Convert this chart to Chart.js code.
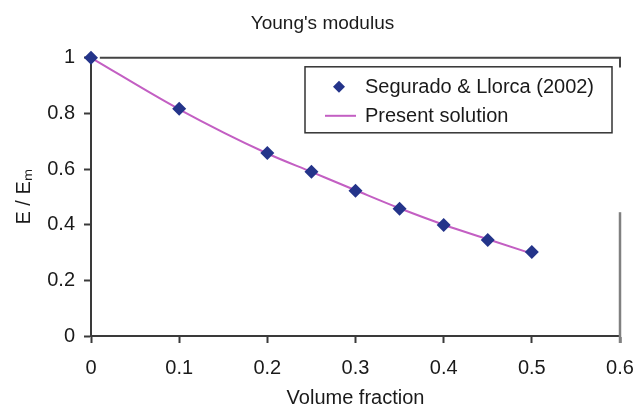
<!DOCTYPE html>
<html>
<head>
<meta charset="utf-8">
<script src="https://cdn.jsdelivr.net/npm/chart.js@4/dist/chart.umd.min.js"></script>
<style>
  html, body { margin: 0; padding: 0; background: #fff; }
  #wrap { width: 639px; height: 408px; }
</style>
</head>
<body>
<div id="wrap"><canvas id="myChart" width="639" height="408"></canvas></div>
<script>
// volume fraction
const fractions = [0, 0.1, 0.2, 0.25, 0.3, 0.35, 0.4, 0.45, 0.5];
// Segurado & Llorca (2002), E / Em
const seguradoValues = [1, 0.817, 0.658, 0.59, 0.522, 0.457, 0.399, 0.345, 0.302];
// present solution, E / Em
const presentValues = [1, 0.815, 0.656, 0.59, 0.524, 0.459, 0.40, 0.348, 0.296];
const xTicks = [0, 0.1, 0.2, 0.3, 0.4, 0.5, 0.6];
const yTicks = [0, 0.2, 0.4, 0.6, 0.8, 1];

const FONT = "'Liberation Sans', Arial, sans-serif";
const TEXT = '#1a1a1a';
const AXIS = '#3a3a3a';

function toPoints(values) {
    return fractions.map((f, i) => ({ x: f, y: values[i] }));
}

// centre the title over the plot area rather than the whole canvas
const titleShift = {
    id: 'titleShift',
    afterLayout(chart) {
        const t = chart.titleBlock;
        if (!t) return;
        const mid = (chart.chartArea.left + chart.chartArea.right) / 2 - (t.left + t.right) / 2 - 33;
        t.left += mid;
        t.right += mid;
    }
};

// top border and the broken right border of the frame
const frame = {
    id: 'frame',
    afterDraw(chart) {
        const ctx = chart.ctx;
        const x = chart.scales.x, y = chart.scales.y;
        ctx.save();
        ctx.strokeStyle = '#444';
        ctx.lineWidth = 2;
        ctx.beginPath();
        ctx.moveTo(x.getPixelForValue(0.01), y.getPixelForValue(1));
        ctx.lineTo(x.getPixelForValue(0.6), y.getPixelForValue(1));
        ctx.lineTo(x.getPixelForValue(0.6), y.getPixelForValue(0.965));
        ctx.stroke();
        ctx.strokeStyle = '#808080';
        ctx.lineWidth = 2.5;
        ctx.beginPath();
        ctx.moveTo(x.getPixelForValue(0.6), y.getPixelForValue(0.445));
        ctx.lineTo(x.getPixelForValue(0.6), y.getPixelForValue(0) + 7);
        ctx.stroke();
        ctx.restore();
    }
};

// legend box drawn inside the plot area
const boxLegend = {
    id: 'boxLegend',
    afterDraw(chart) {
        const ctx = chart.ctx;
        const area = chart.chartArea;
        const ds = chart.data.datasets;
        const left = area.left + 214, top = area.top + 9;
        const w = 307, h = 66;
        ctx.save();
        ctx.strokeStyle = '#333';
        ctx.lineWidth = 1.5;
        ctx.strokeRect(left, top, w, h);

        ctx.fillStyle = ds[0].backgroundColor;
        const dx = left + 34, dy = top + 20;
        ctx.beginPath();
        ctx.moveTo(dx, dy - 6);
        ctx.lineTo(dx + 6, dy);
        ctx.lineTo(dx, dy + 6);
        ctx.lineTo(dx - 6, dy);
        ctx.closePath();
        ctx.fill();

        ctx.strokeStyle = ds[1].borderColor;
        ctx.lineWidth = 2;
        ctx.beginPath();
        ctx.moveTo(left + 20, top + 49);
        ctx.lineTo(left + 51, top + 49);
        ctx.stroke();

        ctx.fillStyle = TEXT;
        ctx.font = '20px ' + FONT;
        ctx.textBaseline = 'middle';
        ctx.fillText(ds[0].label, left + 60, dy + 1);
        ctx.fillText(ds[1].label, left + 60, top + 50);
        ctx.restore();
    }
};

new Chart(document.getElementById('myChart'), {
    type: 'scatter',
    data: {
        datasets: [{
            label: 'Segurado & Llorca (2002)',
            data: toPoints(seguradoValues),
            pointStyle: 'rectRot',
            pointRadius: 7,
            backgroundColor: '#24348a',
            borderColor: '#24348a',
            borderWidth: 0,
            showLine: false,
            clip: false,
            order: 0
        }, {
            label: 'Present solution',
            data: toPoints(presentValues),
            showLine: true,
            borderColor: '#c35fc3',
            borderWidth: 2,
            pointRadius: 0,
            cubicInterpolationMode: 'monotone',
            order: 1
        }]
    },
    options: {
        responsive: false,
        animation: false,
        layout: { padding: { left: 0, right: 19, top: 0, bottom: 0 } },
        plugins: {
            legend: { display: false },
            tooltip: { enabled: false },
            title: {
                display: true,
                text: "Young's modulus",
                color: TEXT,
                font: { family: FONT, size: 19, weight: 'normal', lineHeight: 1.2 },
                padding: { top: 12, bottom: 23 }
            }
        },
        scales: {
            x: {
                type: 'linear',
                min: 0,
                max: 0.6,
                afterFit(scale) {
                    scale.height = 72;
                    scale.paddingRight = 0;
                },
                afterBuildTicks(scale) { scale.ticks = xTicks.map(v => ({ value: v })); },
                ticks: {
                    color: TEXT,
                    padding: 13,
                    font: { family: FONT, size: 20 },
                    callback: v => String(v)
                },
                grid: { drawOnChartArea: false, drawTicks: true, tickLength: 7, color: AXIS, tickWidth: 2 },
                border: { color: AXIS, width: 2 },
                title: {
                    display: true,
                    text: 'Volume fraction',
                    color: TEXT,
                    font: { family: FONT, size: 20, lineHeight: 1 },
                    padding: { top: 0, bottom: 0 }
                }
            },
            y: {
                min: 0,
                max: 1,
                afterFit(scale) { scale.width = 91; },
                afterBuildTicks(scale) { scale.ticks = yTicks.map(v => ({ value: v })); },
                ticks: {
                    color: TEXT,
                    padding: 9,
                    font: { family: FONT, size: 20 },
                    callback: v => String(v)
                },
                grid: { drawOnChartArea: false, drawTicks: true, tickLength: 7, color: AXIS, tickWidth: 2 },
                border: { color: AXIS, width: 2 },
                title: {
                    display: true,
                    text: 'E / Eₘ',
                    color: TEXT,
                    font: { family: FONT, size: 20, lineHeight: 1 },
                    padding: { top: 14, bottom: 14 }
                }
            }
        }
    },
    plugins: [titleShift, frame, boxLegend]
});
</script>
</body>
</html>
